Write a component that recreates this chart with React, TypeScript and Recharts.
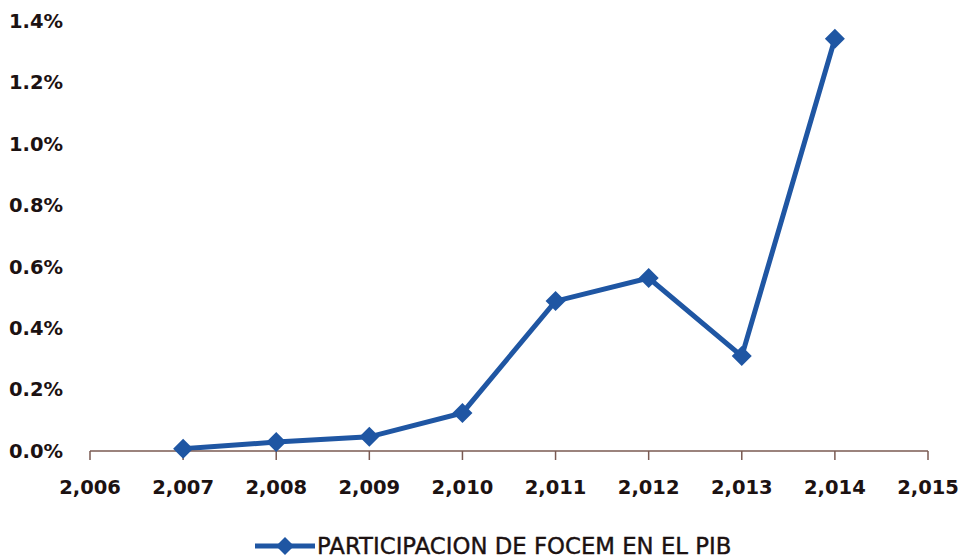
import { LineChart, Line, XAxis, YAxis, Legend } from "recharts";

const years = [2007, 2008, 2009, 2010, 2011, 2012, 2013, 2014];
const share = [0.007, 0.029, 0.046, 0.124, 0.488, 0.563, 0.309, 1.342];
const xTicks = [2006, 2007, 2008, 2009, 2010, 2011, 2012, 2013, 2014, 2015];
const yTicks = [0, 0.2, 0.4, 0.6, 0.8, 1.0, 1.2, 1.4];
const seriesName = "PARTICIPACION DE FOCEM EN EL PIB";

const data = years.map((year, i) => ({ year, share: share[i] }));

const BLUE = "#1f56a3";
const AXIS = "#7a5a52";
const TEXT = "#1c1212";

const Diamond = (props: any) => {
  const { cx, cy, index } = props;
  if (cx == null || cy == null) return null;
  const s = 10;
  return (
    <polygon
      key={index}
      points={`${cx},${cy - s} ${cx + s},${cy} ${cx},${cy + s} ${cx - s},${cy}`}
      fill={BLUE}
    />
  );
};

const LegendContent = () => (
  <div style={{ display: "flex", alignItems: "center", height: 22 }}>
    <svg width={62} height={20}>
      <line x1={0} y1={10} x2={60} y2={10} stroke={BLUE} strokeWidth={5} />
      <polygon points="30,1 39,10 30,19 21,10" fill={BLUE} />
    </svg>
    <span
      style={{
        fontFamily: "DejaVu Sans",
        fontSize: 22.8,
        lineHeight: "22px",
        color: TEXT,
        whiteSpace: "nowrap",
        WebkitTextStroke: "0.4px " + TEXT,
      }}
    >
      {seriesName}
    </span>
  </div>
);

export default function App() {
  return (
    <div style={{ position: "absolute", left: 0, top: 0, background: "#fff" }}>
      <LineChart
        width={964}
        height={558}
        data={data}
        margin={{ top: 21, right: 36, left: 10, bottom: 57 }}
      >
        <XAxis
          dataKey="year"
          type="number"
          domain={[2006, 2015]}
          ticks={xTicks}
          tickFormatter={(v: number) => v.toLocaleString("en-US")}
          height={50}
          stroke={AXIS}
          axisLine={{ stroke: AXIS, strokeWidth: 1.5 }}
          tickLine={{ stroke: AXIS, strokeWidth: 1.5 }}
          tickSize={9}
          tickMargin={20}
          tick={{ fill: TEXT, fontFamily: "DejaVu Sans", fontWeight: "bold", fontSize: 19.5 }}
          allowDataOverflow
        />
        <YAxis
          type="number"
          domain={[0, 1.4]}
          ticks={yTicks}
          tickFormatter={(v: number) => v.toFixed(1) + "%"}
          width={80}
          axisLine={false}
          tickLine={false}
          tickSize={0}
          tickMargin={27}
          tick={{ fill: TEXT, fontFamily: "DejaVu Sans", fontWeight: "bold", fontSize: 19.5 }}
        />
        <Legend
          layout="vertical"
          align="center"
          verticalAlign="middle"
          content={<LegendContent />}
          wrapperStyle={{ position: "absolute", left: 255, top: 535, width: 540 }}
        />
        <Line
          type="linear"
          dataKey="share"
          name={seriesName}
          stroke={BLUE}
          strokeWidth={5}
          dot={<Diamond />}
          activeDot={false}
          isAnimationActive={false}
        />
      </LineChart>
    </div>
  );
}
